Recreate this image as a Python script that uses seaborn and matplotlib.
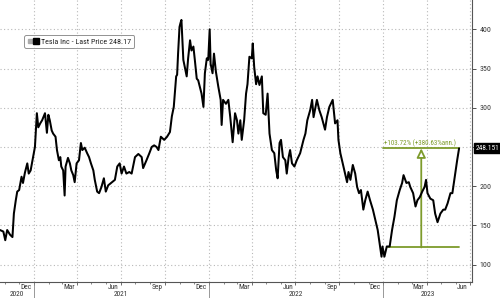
import matplotlib
matplotlib.use("Agg")
import matplotlib.pyplot as plt
import matplotlib.dates as mdates
import matplotlib.transforms as mtrans
from matplotlib.lines import Line2D
from matplotlib.legend_handler import HandlerTuple
from matplotlib import font_manager
import pandas as pd
import seaborn as sns

# ---------------- data ----------------
dates = [
    "2020-10-22", "2020-10-29", "2020-11-02", "2020-11-06", "2020-11-12", "2020-11-17",
    "2020-11-20", "2020-11-24", "2020-11-27", "2020-12-01", "2020-12-06", "2020-12-09",
    "2020-12-13", "2020-12-18", "2020-12-21", "2020-12-25", "2020-12-30",
    "2021-01-03", "2021-01-07", "2021-01-10", "2021-01-14", "2021-01-18", "2021-01-24",
    "2021-01-28", "2021-01-31", "2021-02-03", "2021-02-07", "2021-02-10", "2021-02-15",
    "2021-02-18", "2021-02-22", "2021-02-25", "2021-02-27", "2021-03-03", "2021-03-06",
    "2021-03-08", "2021-03-13", "2021-03-17", "2021-03-20", "2021-03-24", "2021-03-27",
    "2021-03-31", "2021-04-05", "2021-04-09", "2021-04-12", "2021-04-17", "2021-04-22",
    "2021-04-26", "2021-04-30", "2021-05-05", "2021-05-08", "2021-05-13", "2021-05-17",
    "2021-05-22", "2021-05-27", "2021-05-31", "2021-06-05", "2021-06-11", "2021-06-19",
    "2021-06-24", "2021-06-29", "2021-07-03", "2021-07-08", "2021-07-13", "2021-07-19",
    "2021-07-24", "2021-07-31", "2021-08-07", "2021-08-14", "2021-08-17", "2021-08-24",
    "2021-08-30", "2021-09-04", "2021-09-09", "2021-09-14", "2021-09-18", "2021-09-23",
    "2021-09-30", "2021-10-06", "2021-10-12", "2021-10-16", "2021-10-20", "2021-10-25",
    "2021-10-27", "2021-10-29", "2021-11-01", "2021-11-03", "2021-11-05", "2021-11-09",
    "2021-11-12", "2021-11-16", "2021-11-19", "2021-11-23", "2021-11-26", "2021-11-30",
    "2021-12-03", "2021-12-07", "2021-12-10", "2021-12-14", "2021-12-17", "2021-12-21",
    "2021-12-24", "2021-12-28", "2021-12-31",
    "2022-01-03", "2022-01-05", "2022-01-09", "2022-01-12", "2022-01-16", "2022-01-21",
    "2022-01-26", "2022-01-28", "2022-01-31", "2022-02-06", "2022-02-11", "2022-02-15",
    "2022-02-20", "2022-02-25", "2022-03-01", "2022-03-04", "2022-03-08", "2022-03-11",
    "2022-03-16", "2022-03-20", "2022-03-23", "2022-03-27", "2022-04-01", "2022-04-03",
    "2022-04-06", "2022-04-10", "2022-04-13", "2022-04-17", "2022-04-22", "2022-04-25",
    "2022-04-30", "2022-05-04", "2022-05-08", "2022-05-13", "2022-05-18", "2022-05-22",
    "2022-05-25", "2022-05-29", "2022-06-01", "2022-06-05", "2022-06-10", "2022-06-13",
    "2022-06-17", "2022-06-20", "2022-06-24", "2022-06-29", "2022-07-04", "2022-07-11",
    "2022-07-18", "2022-07-22", "2022-07-26", "2022-08-01", "2022-08-05", "2022-08-08",
    "2022-08-15", "2022-08-20", "2022-08-25", "2022-09-01", "2022-09-05", "2022-09-10",
    "2022-09-17", "2022-09-22", "2022-09-27", "2022-09-29", "2022-10-03", "2022-10-08",
    "2022-10-13", "2022-10-17", "2022-10-20", "2022-10-24", "2022-10-29", "2022-11-03",
    "2022-11-07", "2022-11-11", "2022-11-15", "2022-11-20", "2022-11-24", "2022-11-29",
    "2022-12-04", "2022-12-10", "2022-12-15", "2022-12-20", "2022-12-24", "2022-12-28",
    "2022-12-30",
    "2023-01-03", "2023-01-08", "2023-01-14", "2023-01-19", "2023-01-24", "2023-01-29",
    "2023-02-04", "2023-02-09", "2023-02-12", "2023-02-18", "2023-02-23", "2023-02-26",
    "2023-03-04", "2023-03-09", "2023-03-13", "2023-03-18", "2023-03-23", "2023-03-28",
    "2023-03-31", "2023-04-03", "2023-04-09", "2023-04-15", "2023-04-19", "2023-04-24",
    "2023-04-30", "2023-05-06", "2023-05-10", "2023-05-15", "2023-05-21", "2023-05-25",
    "2023-05-31", "2023-06-04", "2023-06-08",
]
prices = [
    144, 142, 131, 144, 138, 135,
    165, 182, 193, 195, 212, 204,
    217, 229, 216, 220, 237,
    250, 293, 275, 280, 284, 293,
    268, 291, 284, 271, 267, 263,
    246, 233, 237, 225, 220, 188,
    225, 236, 229, 220, 214, 205,
    229, 233, 255, 246, 249, 242,
    237, 229, 220, 208, 193, 191,
    199, 210, 193, 201, 204, 208,
    225, 229, 216, 225, 216, 218,
    216, 237, 241, 237, 223, 233,
    242, 250, 252, 250, 246, 263,
    259, 263, 269, 289, 301, 340,
    342, 369, 403, 408, 412, 361,
    352, 340, 363, 386, 373, 378,
    361, 337, 335, 325, 318, 301,
    344, 363, 361,
    400, 356, 344, 369, 346, 327,
    310, 278, 310, 305, 310, 288,
    256, 293, 284, 267, 284, 259,
    284, 318, 330, 365, 363, 382,
    352, 330, 340, 329, 340, 293,
    291, 318, 267, 246, 242, 220,
    210, 255, 259, 237, 233, 216,
    237, 246, 229, 225, 233, 242,
    259, 267, 284, 297, 310, 288,
    310, 297, 288, 272, 288, 301,
    310, 280, 284, 259, 242, 229,
    216, 205, 218, 208, 227, 216,
    199, 191, 195, 170, 182, 193,
    182, 170, 157, 144, 127, 110,
    123,
    110, 123, 123, 144, 161, 182,
    195, 204, 214, 204, 205, 199,
    191, 174, 182, 186, 193, 199,
    208, 191, 184, 182, 165, 154,
    165, 170, 170, 178, 191, 191,
    216, 233, 248.15,
]
series_name = "Tesla Inc - Last Price 248.17"
last_label = "248.151"
gain_label = "+103.72% (+380.63%ann.)"
base_price = 121.8
base_start = "2023-01-11"
top_start = "2023-01-01"
arrow_date = "2023-03-21"
y_ticks = [100, 150, 200, 250, 300, 350, 400]
month_labels = ["Dec", "Mar", "Jun", "Sep"]
years = [2020, 2021, 2022, 2023]

# ---------------- figure ----------------
sns.set_theme(style="white")
names = {f.name for f in font_manager.fontManager.ttflist}
narrow = [n for n in ["Liberation Sans Narrow", "Roboto Condensed", "Open Sans Condensed"]
          if n in names]
plt.rcParams["font.family"] = narrow + ["DejaVu Sans"]
plt.rcParams["font.stretch"] = "condensed"

df = pd.DataFrame({"date": pd.to_datetime(dates), "price": prices})
GREEN = "#7d9b2b"
GRID = "#b8b8b8"
TXT = "#333333"
FS = 5.3 if narrow else 4.9

fig = plt.figure(figsize=(5.0, 2.98), dpi=100)
ax = fig.add_axes([0.0, 16 / 298, 472 / 500, 282 / 298])

sns.lineplot(data=df, x="date", y="price", ax=ax, color="black", linewidth=1.45,
             legend=False, zorder=5)

x0 = pd.Timestamp("2020-10-22")
x1 = pd.Timestamp("2023-07-05")
ax.set_xlim(x0, x1)
ax.set_ylim(77.7, 437.4)

# y axis on the right
ax.yaxis.tick_right()
ax.set_yticks(y_ticks)
ax.set_yticklabels([str(v) if v != 250 else "" for v in y_ticks])
ax.tick_params(axis="y", which="both", right=True, length=3, width=0.6, pad=2.5,
               labelsize=FS + 0.4, colors=TXT, direction="out")
ax.set_ylabel("")
ax.set_xlabel("")

# x axis: quarter gridlines, monthly small ticks
ax.xaxis.set_major_locator(mdates.MonthLocator(bymonth=[1, 4, 7, 10]))
ax.xaxis.set_minor_locator(mdates.MonthLocator())
ax.xaxis.set_major_formatter(plt.NullFormatter())
ax.tick_params(axis="x", which="major", bottom=True, length=2.0, width=0.6,
               colors="#555555")
ax.tick_params(axis="x", which="minor", bottom=True, length=1.5, width=0.5,
               colors="#555555")

ax.grid(True, which="major", axis="both", color=GRID, linestyle=(0, (1, 2.2)),
        linewidth=0.8)

for side in ["top", "left"]:
    ax.spines[side].set_visible(False)
for side in ["right", "bottom"]:
    ax.spines[side].set_visible(True)
    ax.spines[side].set_color("#555555")
    ax.spines[side].set_linewidth(0.8)

# month labels (mid-month) and year labels
trans = mtrans.blended_transform_factory(ax.transData, ax.transAxes)
mnum = {"Dec": 12, "Mar": 3, "Jun": 6, "Sep": 9}
for yr in years:
    for m in month_labels:
        d = pd.Timestamp(year=yr, month=mnum[m], day=15)
        if x0 <= d <= x1 + pd.Timedelta(days=5):
            ax.text(d, -0.019, m, transform=trans, ha="center", va="center",
                    fontsize=FS, color=TXT, clip_on=False)
for yr in years:
    a = max(pd.Timestamp(year=yr, month=1, day=1), x0)
    b = min(pd.Timestamp(year=yr + 1, month=1, day=1), x1)
    mid = a + (b - a) / 2
    ax.text(mid, -0.044, str(yr), transform=trans, ha="center", va="center",
            fontsize=FS, color=TXT, clip_on=False)
    if yr > years[0]:
        ax.plot([pd.Timestamp(year=yr, month=1, day=1)] * 2, [-0.004, -0.06],
                transform=trans, color="#888888", linewidth=0.6, clip_on=False)

# legend
h_gray = Line2D([], [], marker="s", color="#aaaaaa", linestyle="none", markersize=2.5)
h_blk = Line2D([], [], marker="s", color="black", linestyle="none", markersize=5)
leg = ax.legend([(h_gray, h_blk)], [series_name],
                handler_map={tuple: HandlerTuple(ndivide=None, pad=0.1)},
                loc="upper left", bbox_to_anchor=(24 / 472, 1 - 35 / 282),
                fontsize=FS + 0.5, frameon=True, fancybox=True, handlelength=1.4,
                handletextpad=0.3, borderpad=0.4, borderaxespad=0.0)
leg.get_frame().set_edgecolor("#777777")
leg.get_frame().set_linewidth(0.7)
for t in leg.get_texts():
    t.set_color("#222222")

# gain annotation
last_date = df["date"].iloc[-1]
last_price = df["price"].iloc[-1]
ax.plot([pd.Timestamp(top_start), last_date], [last_price, last_price],
        color=GREEN, linewidth=1.3, zorder=4)
ax.plot([pd.Timestamp(base_start), last_date], [base_price, base_price],
        color=GREEN, linewidth=1.3, zorder=4)
ax.annotate("", xy=(pd.Timestamp(arrow_date), last_price),
            xytext=(pd.Timestamp(arrow_date), base_price),
            arrowprops=dict(arrowstyle="-|>,head_length=0.45,head_width=0.22",
                            color=GREEN, lw=1.3, fc="white", shrinkA=0, shrinkB=0),
            zorder=4)
ax.text(pd.Timestamp(top_start) + pd.Timedelta(days=2), last_price + 1.5, gain_label,
        color=GREEN, fontsize=FS - 0.3, ha="left", va="bottom", zorder=6)

# last price box on the right axis
ytr = mtrans.blended_transform_factory(ax.transAxes, ax.transData)
ax.text(1.008, last_price, last_label, transform=ytr, ha="left", va="center",
        fontsize=FS, color="white", clip_on=False, zorder=10,
        bbox=dict(boxstyle="square,pad=0.22", fc="black", ec="black"))

fig.savefig("out.png", dpi=100)
